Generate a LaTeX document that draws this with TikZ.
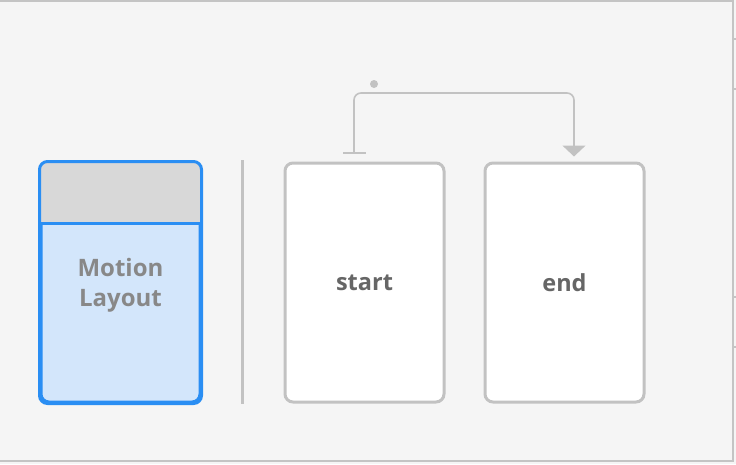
\documentclass[tikz,border=0pt]{standalone}
\usepackage{fontspec}
\setmainfont{Open Sans}
\usetikzlibrary{arrows.meta}
\definecolor{bg}{HTML}{F5F5F5}
\definecolor{frame}{HTML}{C4C4C4}
\definecolor{linegray}{HTML}{C2C2C2}
\definecolor{mlblue}{HTML}{2A8EF3}
\definecolor{mlbody}{HTML}{D3E6FB}
\definecolor{mlhead}{HTML}{D8D8D8}
\definecolor{mltxt}{HTML}{888888}
\definecolor{statetxt}{HTML}{666666}
\tikzset{
  mlbox/.style={draw=mlblue, line width=3pt, fill=mlbody, rounded corners=8pt,
    minimum width=159pt, minimum height=239pt, inner sep=0pt},
  statebox/.style={draw=linegray, line width=3pt, fill=white, rounded corners=8pt,
    minimum width=159pt, minimum height=239pt, inner sep=0pt,
    font=\fontsize{23.5}{28}\selectfont\bfseries, text=statetxt},
  mltext/.style={font=\fontsize{24}{30}\selectfont\bfseries, text=mltxt, align=center},
  conn/.style={draw=linegray, line width=1.6pt, rounded corners=7pt},
  sep/.style={draw=linegray, line width=3pt},
  framel/.style={draw=frame, line width=2pt}
}
\begin{document}
\begin{tikzpicture}[x=1pt,y=-1pt]
\useasboundingbox (0,0) rectangle (736,464);
\fill[bg] (0,0) rectangle (736,464);
% frame
\draw[framel] (0,1) -- (733,1);
\draw[framel] (732.5,0) -- (732.5,462);
\draw[framel] (0,461) -- (733,461);
\foreach \yy in {39,89,297,347} \draw[draw=frame, line width=1.5pt] (733,\yy) -- (736,\yy);
% motion layout box
\node[mlbox] (ml) at (120.5,282.5) {};
\begin{scope}
  \clip[rounded corners=8pt] (ml.north west) rectangle (ml.south east);
  \fill[mlhead] (ml.north west) rectangle ([yshift=-62pt]ml.north east);
\end{scope}
\draw[draw=mlblue, line width=3pt] ([yshift=-62pt]ml.north west) -- ([yshift=-62pt]ml.north east);
\draw[draw=mlblue, line width=3pt, rounded corners=8pt] (ml.north west) rectangle (ml.south east);
\node[mltext] (mltxt) at (120.5,285) {Motion\\Layout};
% separator
\coordinate (s1) at (242,160);
\coordinate (s2) at (242,404);
\draw[sep] (s1) -- (s2);
% state boxes
\node[statebox] (start) at (364.5,282.5) {start};
\node[statebox] (end) at (564.5,282.5) {end};
% connector
\coordinate (c1) at ([xshift=-10.5pt,yshift=8pt]start.north);
\coordinate (cm) at (464,93);
\coordinate (c2) at ([xshift=9.5pt,yshift=5pt]end.north);
\draw[conn, {Bar[width=23pt,line width=1.6pt]}-{Triangle[width=23pt,length=11pt]}] (c1) |- (cm) -| (c2);
\fill[linegray] (374,84) circle (4pt);
\end{tikzpicture}
\end{document}
